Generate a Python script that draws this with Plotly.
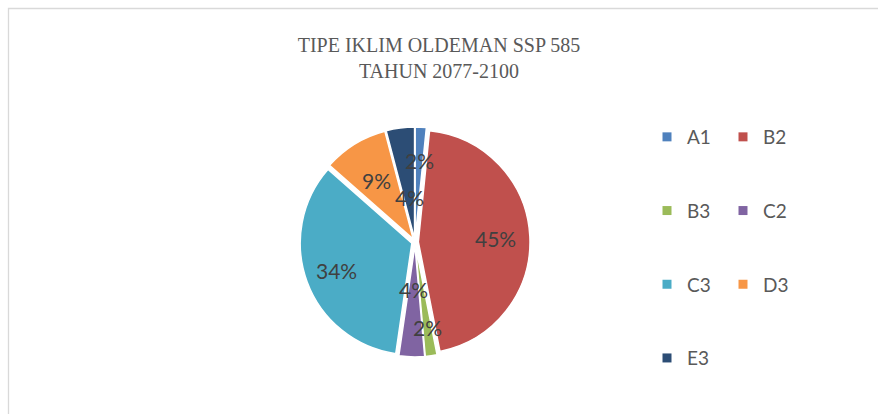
import math
import plotly.graph_objects as go

categories = ["A1", "B2", "B3", "C2", "C3", "D3", "E3"]
values = [1.6, 45.3, 1.7, 3.7, 34.2, 9.4, 4.1]
colors = ["#4F81BD", "#C0504D", "#9BBB59", "#8064A2", "#4BACC6", "#F79646", "#2C4D75"]
title_lines = ["TIPE IKLIM OLDEMAN SSP 585", "TAHUN 2077-2100"]

# label placement style (fraction of the radius, per slice, best-fit like)
label_radius = [0.71, 0.70, 0.75, 0.41, 0.73, 0.63, 0.39]

W, H = 878, 414
CX, CY, R = 415, 242, 115  # pie centre / outer extent in pixels

fig = go.Figure()
fig.add_trace(go.Pie(
    labels=categories, values=values, sort=False, direction="clockwise", rotation=0,
    marker=dict(colors=colors, line=dict(color="white", width=1.5)),
    pull=[0.03] * len(values),
    textinfo="none",
    domain=dict(x=[(CX - R) / W, (CX + R) / W], y=[(H - CY - R) / H, (H - CY + R) / H]),
    showlegend=False, hoverinfo="label+percent",
))

# percentage labels, positioned from the cumulative shares
total = sum(values)
cum = 0.0
annotations = []
for v, fr in zip(values, label_radius):
    mid = (cum + v / 2) / total * 2 * math.pi
    cum += v
    px = CX + fr * R * math.sin(mid)
    py = CY - fr * R * math.cos(mid)
    annotations.append(dict(
        x=px / W, y=1 - py / H, xref="paper", yref="paper", showarrow=False,
        text=f"{round(v / total * 100)}%",
        font=dict(family="Lato", size=21, color="#404040"),
        xanchor="center", yanchor="middle",
    ))

# legend entries split over two columns
col1 = [0, 2, 4, 6]
for idx in range(len(categories)):
    fig.add_trace(go.Scatter(
        x=[None], y=[None], mode="markers",
        marker=dict(symbol="square", size=9, color=colors[idx]),
        name=categories[idx], legendgroup=categories[idx],
        legend="legend" if idx in col1 else "legend2",
    ))

legend_common = dict(
    orientation="v", traceorder="grouped", tracegroupgap=46,
    font=dict(family="Lato", size=19, color="#595959"),
    bgcolor="rgba(0,0,0,0)", yanchor="top", xanchor="left",
)
fig.update_layout(
    width=W, height=H,
    margin=dict(l=0, r=0, t=0, b=0, autoexpand=False),
    paper_bgcolor="white", plot_bgcolor="white",
    title=dict(text="<br>".join(title_lines), x=0.5, xanchor="center",
               y=1 - 52 / H, yanchor="top",
               font=dict(family="Liberation Serif", size=20, color="#595959")),
    xaxis=dict(visible=False), yaxis=dict(visible=False),
    legend=dict(x=647 / W, y=1 - 118 / H, **legend_common),
    legend2=dict(x=723 / W, y=1 - 118 / H, **legend_common),
    annotations=annotations,
    shapes=[dict(type="rect", xref="paper", yref="paper",
                 x0=8.5 / W, x1=1.1, y0=-0.1, y1=1 - 8.5 / H,
                 line=dict(color="#D9D9D9", width=1.3), layer="below")],
)

fig.write_html("out.html", config={"displayModeBar": False},
               post_script="document.body.style.margin='0';")
